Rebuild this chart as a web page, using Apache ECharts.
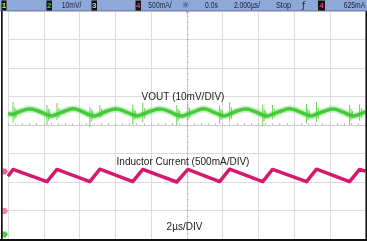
<!DOCTYPE html>
<html><head><meta charset="utf-8">
<script src="https://cdn.jsdelivr.net/npm/echarts@6/dist/echarts.min.js"></script>
<style>html,body{margin:0;padding:0;background:#fff}#c{width:367px;height:241px}</style>
</head><body><div id="c"></div>
<script>
// Time axis in microseconds (2 us/div, 10 divisions), vertical axis in divisions (8 divisions)
const xMin = -10, xMax = 10, xStep = 2;
const yMin = -4, yMax = 4, yStep = 1;

// Inductor current trace (divisions)
const currentTime = [-10, -9.72, -7.82, -7.26, -5.42, -4.86, -3.02, -2.46, -0.56, 0.06, 1.84, 2.40, 4.25, 4.80, 6.70, 7.26, 9.11, 9.67, 10];
const currentDiv  = [-1.80, -1.56, -1.99, -1.56, -1.99, -1.55, -1.99, -1.56, -2.00, -1.56, -1.99, -1.55, -1.99, -1.56, -1.99, -1.55, -1.99, -1.56, -1.62];

// VOUT ripple trace (divisions)
const voutTime = [-10, -9.72, -9.27, -8.79, -8.32, -7.82, -7.54, -7.26, -6.81, -6.33, -5.87, -5.42, -5.14, -4.86, -4.41, -3.94, -3.48, -3.02, -2.74, -2.46, -2.00, -1.51, -1.03, -0.56, -0.25, 0.06, 0.50, 0.95, 1.40, 1.84, 2.12, 2.40, 2.86, 3.32, 3.79, 4.25, 4.52, 4.80, 5.28, 5.75, 6.22, 6.70, 6.98, 7.26, 7.72, 8.18, 8.65, 9.11, 9.39, 9.67, 10];
const voutDiv  = [0.40, 0.38, 0.49, 0.56, 0.49, 0.36, 0.32, 0.38, 0.49, 0.57, 0.48, 0.35, 0.32, 0.38, 0.50, 0.56, 0.48, 0.36, 0.32, 0.38, 0.49, 0.56, 0.49, 0.35, 0.32, 0.38, 0.49, 0.57, 0.48, 0.36, 0.32, 0.38, 0.50, 0.56, 0.48, 0.35, 0.32, 0.38, 0.49, 0.57, 0.49, 0.36, 0.32, 0.38, 0.49, 0.56, 0.48, 0.35, 0.32, 0.38, 0.46];

// Switching spikes on VOUT: time, low, high (divisions)
const spikeTime = [-9.72, -9.62, -9.55, -7.82, -7.74, -7.66, -7.26, -7.15, -5.42, -5.34, -5.26, -4.86, -4.76, -3.02, -2.94, -2.86, -2.46, -2.35, -0.56, -0.48, -0.40, 0.06, 0.16, 1.84, 1.92, 2.00, 2.40, 2.50, 4.25, 4.33, 4.41, 4.80, 4.90, 6.70, 6.78, 6.86, 7.26, 7.36, 9.11, 9.19, 9.27, 9.67, 9.77];
const spikeLow  = [0.07, 0.20, 0.26, 0.00, 0.15, 0.22, 0.18, 0.25, -0.07, 0.12, 0.20, 0.25, 0.28, 0.02, 0.18, 0.22, 0.10, 0.22, 0.00, 0.15, 0.22, 0.15, 0.24, 0.05, 0.18, 0.24, 0.12, 0.22, -0.05, 0.14, 0.22, 0.20, 0.26, 0.05, 0.16, 0.23, 0.10, 0.22, 0.00, 0.15, 0.22, 0.15, 0.25];
const spikeHigh = [0.81, 0.62, 0.55, 0.70, 0.58, 0.52, 0.77, 0.60, 0.63, 0.55, 0.50, 0.70, 0.58, 0.72, 0.56, 0.50, 0.78, 0.60, 0.70, 0.57, 0.50, 0.75, 0.60, 0.68, 0.56, 0.50, 0.80, 0.62, 0.72, 0.57, 0.50, 0.70, 0.58, 0.75, 0.58, 0.52, 0.80, 0.62, 0.70, 0.56, 0.50, 0.72, 0.58];

// Labels
const voutLabel = 'VOUT (10mV/DIV)';
const currentLabel = 'Inductor Current (500mA/DIV)';
const timeLabel = '2\u00b5s/DIV';
const header = { ch2Scale: '10mV/', ch4Scale: '500mA/', delay: '0.0s', timebase: '2.000\u00b5s/', state: 'Stop', trigLevel: '625mA' };

const zip = (a, b) => a.map((v, i) => [v, b[i]]);
const spikeData = [];
spikeTime.forEach((t, i) => { spikeData.push([t, spikeLow[i]], [t, spikeHigh[i]], null); });

const chart = echarts.init(document.getElementById('c'), null, { renderer: 'canvas' });

const hdrFont = '9px "Liberation Sans", Arial, sans-serif';
function hText(text, x, fill, sx) {
  return { type: 'text', x: x, y: 5.8, scaleX: sx || 0.75, silent: true, z: 20,
    style: { text: text, x: 0, y: 0, textAlign: 'center', textVerticalAlign: 'middle', font: hdrFont, fill: fill || '#1b1f3c' } };
}
function box(x, w, digit, color) {
  return [
    { type: 'rect', shape: { x: x, y: 0.5, width: w, height: 10 }, style: { fill: '#111' }, silent: true, z: 20 },
    { type: 'text', x: x + w / 2, y: 5.8, silent: true, z: 21,
      style: { text: digit, x: 0, y: 0, textAlign: 'center', textVerticalAlign: 'middle', font: 'bold 8px "Liberation Sans", Arial, sans-serif', fill: color } }
  ];
}
function label(text, x, y) {
  return { type: 'text', x: x, y: y, silent: true, z: 15,
    style: { text: text, x: 0, y: 0, textAlign: 'center', textVerticalAlign: 'middle', font: '10px "Liberation Sans", Arial, sans-serif', fill: '#1a1a1a' } };
}
function marker(y, color) {
  return { type: 'polygon', silent: true, z: 15,
    shape: { points: [[2.5, y - 3], [6, y - 3], [8, y], [6, y + 3], [2.5, y + 3]] }, style: { fill: color } };
}

const graphics = [
  { type: 'rect', shape: { x: 0, y: 0, width: 367, height: 11 }, style: { fill: '#8ea8d8' }, silent: true, z: 19 },
  { type: 'rect', shape: { x: 0, y: 10.5, width: 367, height: 0.8 }, style: { fill: '#5a6e98' }, silent: true, z: 19 },
  ...box(1.5, 5, '1', '#d8e030'),
  ...box(46.5, 5.5, '2', '#40d040'),
  ...box(91.5, 5.5, '3', '#b8c8f0'),
  ...box(135.5, 5.5, '4', '#f03080'),
  ...box(318, 7, '4', '#f03080'),
  hText(header.ch2Scale, 71.5),
  hText(header.ch4Scale, 160),
  { type: 'text', x: 185.5, y: 5.8, silent: true, z: 20,
    style: { text: '\u263c', x: 0, y: 0, textAlign: 'center', textVerticalAlign: 'middle', font: '9px "DejaVu Sans", sans-serif', fill: '#1b1f3c' } },
  hText(header.delay, 211.5),
  hText(header.timebase, 247),
  hText(header.state, 283.5, null, 0.82),
  { type: 'text', x: 303.5, y: 5.8, silent: true, z: 20,
    style: { text: '\u0192', x: 0, y: 0, textAlign: 'center', textVerticalAlign: 'middle', font: '9px "DejaVu Sans", sans-serif', fill: '#1b1f3c' } },
  hText(header.trigLevel, 354.5),
  // borders
  { type: 'rect', shape: { x: 1, y: 11, width: 1.7, height: 230 }, style: { fill: '#111' }, silent: true, z: 18 },
  { type: 'rect', shape: { x: 0, y: 239, width: 367, height: 2 }, style: { fill: '#111' }, silent: true, z: 18 },
  { type: 'rect', shape: { x: 365.5, y: 11, width: 1.5, height: 230 }, style: { fill: '#111' }, silent: true, z: 18 },
  // trigger position marker
  { type: 'polygon', shape: { points: [[185, 11], [190, 11], [187.5, 14]] }, style: { fill: '#f49cb8' }, silent: true, z: 18 },
  // ground / level markers
  marker(171.5, '#e8609a'),
  marker(211, '#f080b0'),
  marker(234.5, '#50d050'),
  label(voutLabel, 183, 97.5),
  label(currentLabel, 183, 162),
  label(timeLabel, 184.5, 227)
];

chart.setOption({
  animation: false,
  backgroundColor: '#fff',
  grid: { left: 8, right: 1.5, top: 11, bottom: 2, containLabel: false },
  xAxis: {
    type: 'value', min: xMin, max: xMax, interval: xStep,
    axisLabel: { show: false },
    axisLine: { show: true, onZero: true, lineStyle: { color: '#c4c4c4', type: [2, 2], width: 1 } },
    axisTick: { show: true, inside: true, length: 2, lineStyle: { color: '#bdbdbd' } },
    minorTick: { show: true, splitNumber: 5, length: 2, lineStyle: { color: '#c8c8c8' } },
    splitLine: { show: true, lineStyle: { color: '#dcdcdc', width: 1 } }
  },
  yAxis: {
    type: 'value', min: yMin, max: yMax, interval: yStep,
    axisLabel: { show: false },
    axisLine: { show: true, onZero: true, lineStyle: { color: '#c4c4c4', type: [2, 2], width: 1 } },
    axisTick: { show: true, inside: true, length: 2, lineStyle: { color: '#bdbdbd' } },
    minorTick: { show: true, splitNumber: 5, length: 2, lineStyle: { color: '#c8c8c8' } },
    splitLine: { show: true, lineStyle: { color: '#dcdcdc', width: 1 } }
  },
  series: [
    { name: 'Inductor Current', type: 'line', data: zip(currentTime, currentDiv), symbol: 'none', silent: true, z: 3,
      lineStyle: { color: '#d4196e', width: 3.5, join: 'round' } },
    { name: 'VOUT spikes', type: 'line', data: spikeData, symbol: 'none', silent: true, connectNulls: false, z: 2,
      lineStyle: { color: '#66d455', width: 1 } },
    { name: 'VOUT halo', type: 'line', data: zip(voutTime, voutDiv), symbol: 'none', smooth: 0.4, silent: true, z: 3,
      lineStyle: { color: '#6ad85a', width: 7, opacity: 0.35 } },
    { name: 'VOUT', type: 'line', data: zip(voutTime, voutDiv), symbol: 'none', smooth: 0.4, silent: true, z: 4,
      lineStyle: { color: '#3ec834', width: 3.5, opacity: 0.95 } }
  ],
  graphic: graphics
});
</script>
</body></html>
